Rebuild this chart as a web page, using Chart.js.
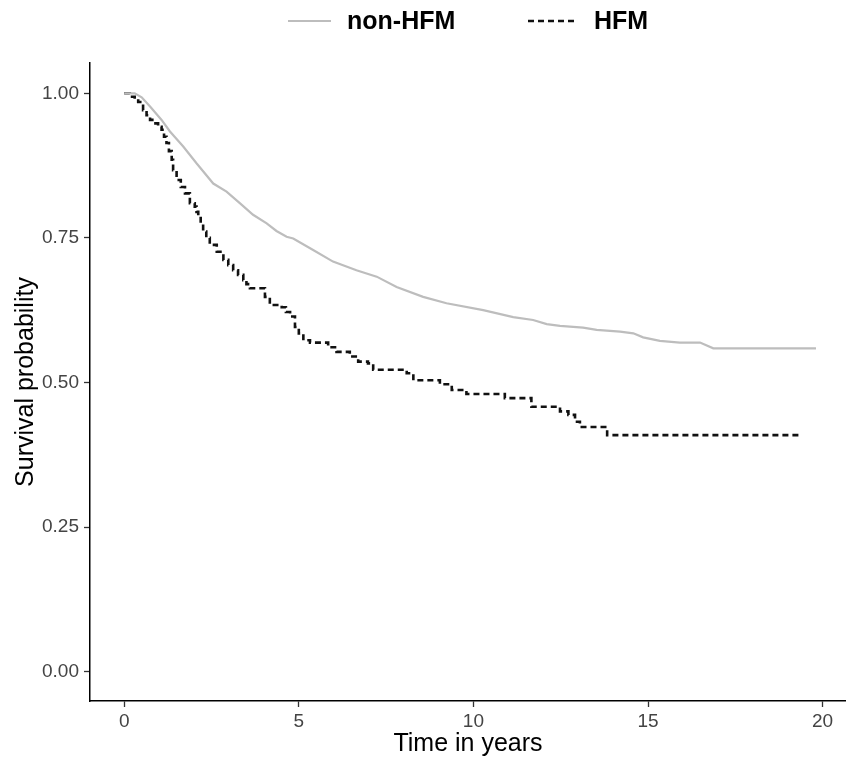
<!DOCTYPE html>
<html>
<head>
<meta charset="utf-8">
<title>Survival by HFM status</title>
<script src="https://cdn.jsdelivr.net/npm/chart.js@4/dist/chart.umd.min.js"></script>
<style>
  html, body { margin: 0; padding: 0; background: #ffffff; }
  #wrap { width: 846px; height: 760px; }
</style>
</head>
<body>
<div id="wrap"><canvas id="km" width="846" height="760"></canvas></div>
<script>
// Kaplan-Meier estimates: follow-up time (years) and survival probability
const nonHfmTime = [0, 0.3, 0.5, 0.74, 1.07, 1.31, 1.69, 2.07, 2.55, 2.93, 3.31, 3.69, 4.08, 4.36, 4.65, 4.84, 5.41, 5.98, 6.65, 7.23, 7.80, 8.56, 9.23, 10.28, 11.14, 11.71, 12.1, 12.48, 13.14, 13.53, 14.2, 14.58, 14.86, 15.34, 15.91, 16.49, 16.87, 19.81];
const nonHfmSurv = [1.0, 1.0, 0.993, 0.977, 0.954, 0.934, 0.908, 0.879, 0.844, 0.830, 0.810, 0.790, 0.775, 0.762, 0.752, 0.749, 0.729, 0.709, 0.694, 0.683, 0.665, 0.648, 0.637, 0.625, 0.613, 0.608, 0.601, 0.598, 0.595, 0.591, 0.588, 0.585, 0.578, 0.572, 0.569, 0.569, 0.559, 0.559];

const hfmTime = [0, 0.16, 0.3, 0.4, 0.54, 0.64, 0.74, 0.85, 0.97, 1.07, 1.14, 1.21, 1.28, 1.36, 1.4, 1.5, 1.62, 1.74, 1.88, 2.02, 2.07, 2.12, 2.19, 2.26, 2.35, 2.45, 2.65, 2.84, 2.98, 3.12, 3.26, 3.41, 3.5, 3.6, 4.03, 4.17, 4.51, 4.63, 4.75, 4.89, 5.0, 5.13, 5.32, 5.84, 6.08, 6.46, 6.7, 6.98, 7.13, 8.09, 8.28, 9.04, 9.38, 9.8, 10.9, 11.66, 12.48, 12.72, 12.91, 13.05, 13.83, 19.4];
const hfmSurv = [1.0, 0.994, 0.99, 0.985, 0.971, 0.962, 0.954, 0.948, 0.942, 0.937, 0.925, 0.914, 0.900, 0.885, 0.867, 0.850, 0.838, 0.827, 0.810, 0.804, 0.795, 0.787, 0.774, 0.761, 0.750, 0.738, 0.726, 0.712, 0.703, 0.694, 0.686, 0.677, 0.670, 0.663, 0.648, 0.634, 0.630, 0.622, 0.614, 0.596, 0.585, 0.573, 0.569, 0.561, 0.553, 0.545, 0.536, 0.533, 0.522, 0.516, 0.504, 0.497, 0.487, 0.480, 0.473, 0.458, 0.450, 0.444, 0.432, 0.423, 0.409, 0.409];

const groupNames = ['non-HFM', 'HFM'];
const xTicks = [0, 5, 10, 15, 20];
const xTickLabels = ['0', '5', '10', '15', '20'];
const yTicks = [0, 0.25, 0.5, 0.75, 1];
const yTickLabels = ['0.00', '0.25', '0.50', '0.75', '1.00'];

const FONT = '"Liberation Sans", Arial, Helvetica, sans-serif';

function pairs(xs, ys) {
  return xs.map((x, i) => ({ x: x, y: ys[i] }));
}

// Legend row above the panel: line key followed by bold group name
const topLegend = {
  id: 'topLegend',
  afterDraw(chart) {
    const ctx = chart.ctx;
    const items = [
      { ds: chart.data.datasets[0], x0: 288, x1: 331, tx: 347 },
      { ds: chart.data.datasets[1], x0: 528, x1: 578, tx: 594 }
    ];
    const y = 21;
    ctx.save();
    items.forEach(it => {
      ctx.beginPath();
      ctx.strokeStyle = it.ds.borderColor;
      ctx.lineWidth = it.ds.borderWidth;
      ctx.setLineDash(it.ds.borderDash || []);
      ctx.moveTo(it.x0, y);
      ctx.lineTo(it.x1, y);
      ctx.stroke();
      ctx.setLineDash([]);
      ctx.fillStyle = '#000000';
      ctx.font = 'bold 25px ' + FONT;
      ctx.textBaseline = 'middle';
      ctx.textAlign = 'left';
      ctx.fillText(it.ds.label, it.tx, y + 1);
    });
    ctx.restore();
  }
};

new Chart(document.getElementById('km'), {
  type: 'line',
  data: {
    datasets: [
      {
        label: groupNames[0],
        data: pairs(nonHfmTime, nonHfmSurv),
        borderColor: '#bdbdbd',
        borderWidth: 2.2,
        pointRadius: 0,
        tension: 0,
        fill: false
      },
      {
        label: groupNames[1],
        data: pairs(hfmTime, hfmSurv),
        borderColor: '#111111',
        borderWidth: 2.6,
        borderDash: [6, 4],
        stepped: 'before',
        pointRadius: 0,
        fill: false
      }
    ]
  },
  options: {
    responsive: false,
    animation: false,
    layout: { padding: { top: 63, left: 0, right: 0, bottom: 0 } },
    plugins: {
      legend: { display: false },
      tooltip: { enabled: false }
    },
    scales: {
      x: {
        type: 'linear',
        min: -0.98,
        max: 20.67,
        afterBuildTicks(scale) { scale.ticks = xTicks.map(v => ({ value: v })); },
        afterFit(scale) { scale.height = 59; },
        grid: {
          display: true,
          drawOnChartArea: false,
          drawTicks: true,
          tickLength: 6,
          tickColor: '#333333',
          tickWidth: 1.3
        },
        border: { display: true, color: '#000000', width: 1.5 },
        ticks: {
          color: '#444444',
          font: { family: FONT, size: 19 },
          padding: 3,
          maxRotation: 0,
          autoSkip: false,
          callback(value, index) { return xTickLabels[index]; }
        },
        title: {
          display: true,
          text: 'Time in years',
          color: '#000000',
          font: { family: FONT, size: 25 },
          padding: { top: 0, bottom: 1 }
        }
      },
      y: {
        type: 'linear',
        min: -0.0507,
        max: 1.0524,
        afterBuildTicks(scale) { scale.ticks = yTicks.map(v => ({ value: v })); },
        afterFit(scale) { scale.width = 90; },
        grid: {
          display: true,
          drawOnChartArea: false,
          drawTicks: true,
          tickLength: 6,
          tickColor: '#333333',
          tickWidth: 1.3
        },
        border: { display: true, color: '#000000', width: 1.5 },
        ticks: {
          color: '#444444',
          font: { family: FONT, size: 19 },
          padding: 5,
          autoSkip: false,
          callback(value, index) { return yTickLabels[index]; }
        },
        title: {
          display: true,
          text: 'Survival probability',
          color: '#000000',
          font: { family: FONT, size: 25 },
          padding: { top: 11, bottom: 0 }
        }
      }
    }
  },
  plugins: [topLegend]
});
</script>
</body>
</html>
